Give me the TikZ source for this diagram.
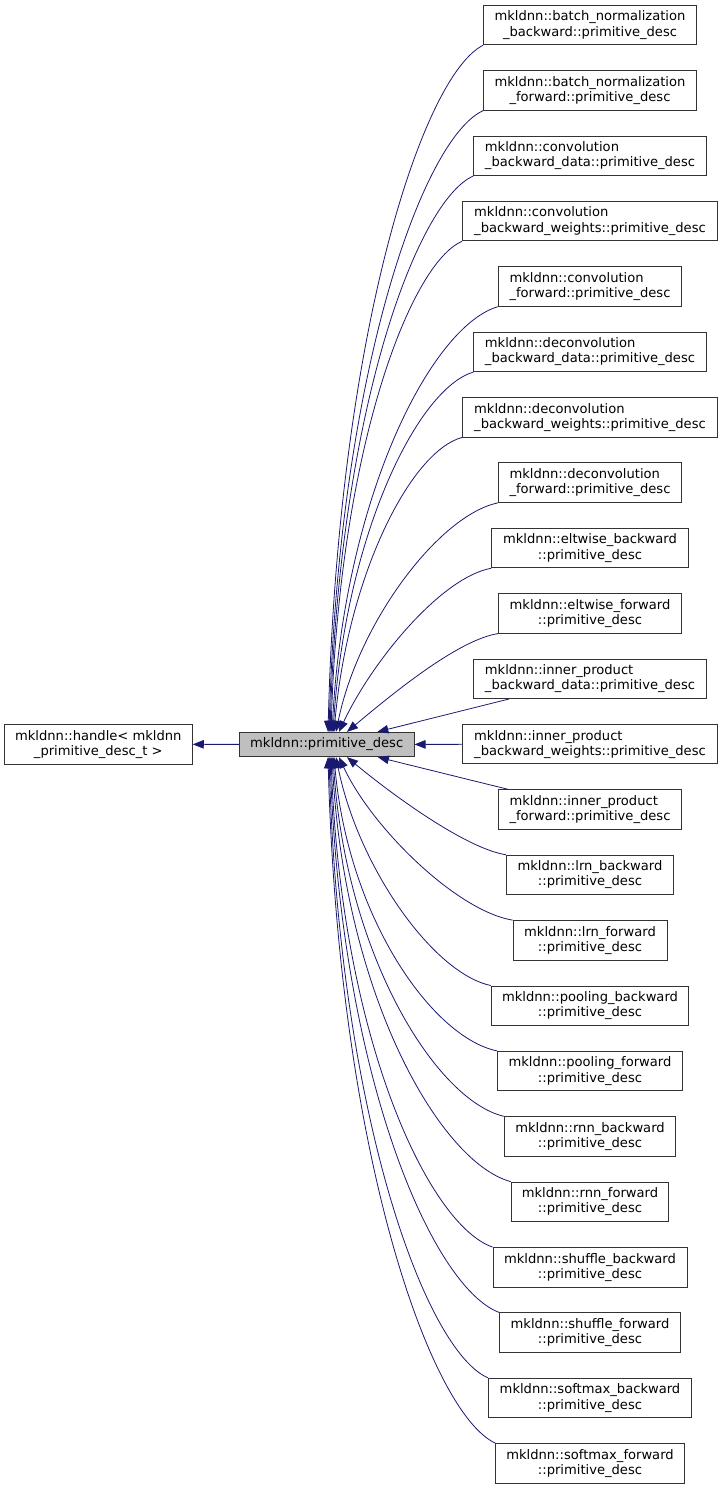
\documentclass[tikz,border=0pt]{standalone}
\usepackage{fontspec}
\setmainfont{DejaVu Sans}
\usetikzlibrary{arrows.meta}
\definecolor{edgeblue}{RGB}{25,25,112}
\tikzset{
  cls/.style={draw=black!80, line width=0.9pt, fill=white, align=center,
    minimum height=39.5pt, inner sep=1pt,
    font=\fontsize{13.1}{15.2}\selectfont},
  edge/.style={draw=edgeblue, line width=0.8pt,
    -{Triangle[length=11pt,width=8.5pt]}},
}
\begin{document}
\begin{tikzpicture}[x=1pt,y=-1pt]
  \useasboundingbox (0,0) rectangle (723,1489);
  % base classes
  \node[cls, minimum width=188pt] (hd) at (98.3,744.2)
    {mkldnn::handle< mkldnn\\\_primitive\_desc\_t >};
  \node[cls, fill=black!25, minimum width=174.7pt, minimum height=24.4pt]
    (pd) at (326.7,744.5) {mkldnn::primitive\_desc};
  % derived classes
  \node[cls, minimum width=212.7pt] (b1) at (590,25)
    {mkldnn::batch\_normalization\\\_backward::primitive\_desc};
  \node[cls, minimum width=212.7pt] (b2) at (590,90.38)
    {mkldnn::batch\_normalization\\\_forward::primitive\_desc};
  \node[cls, align=left, minimum width=232.4pt] (b3) at (590,155.76)
    {mkldnn::convolution\\\_backward\_data::primitive\_desc};
  \node[cls, align=left, minimum width=255pt] (b4) at (590,221.14)
    {mkldnn::convolution\\\_backward\_weights::primitive\_desc};
  \node[cls, align=left, minimum width=183.4pt] (b5) at (590,286.52)
    {mkldnn::convolution\\\_forward::primitive\_desc};
  \node[cls, align=left, minimum width=232.4pt] (b6) at (590,351.9)
    {mkldnn::deconvolution\\\_backward\_data::primitive\_desc};
  \node[cls, align=left, minimum width=255pt] (b7) at (590,417.28)
    {mkldnn::deconvolution\\\_backward\_weights::primitive\_desc};
  \node[cls, align=left, minimum width=183.4pt] (b8) at (590,482.66)
    {mkldnn::deconvolution\\\_forward::primitive\_desc};
  \node[cls, minimum width=196.7pt] (b9) at (590,548.04)
    {mkldnn::eltwise\_backward\\::primitive\_desc};
  \node[cls, minimum width=183.4pt] (b10) at (590,613.42)
    {mkldnn::eltwise\_forward\\::primitive\_desc};
  \node[cls, align=left, minimum width=232.7pt] (b11) at (590,678.8)
    {mkldnn::inner\_product\\\_backward\_data::primitive\_desc};
  \node[cls, align=left, minimum width=255pt] (b12) at (590,744.18)
    {mkldnn::inner\_product\\\_backward\_weights::primitive\_desc};
  \node[cls, align=left, minimum width=182.7pt] (b13) at (590,809.56)
    {mkldnn::inner\_product\\\_forward::primitive\_desc};
  \node[cls, minimum width=167.3pt] (b14) at (590,874.94)
    {mkldnn::lrn\_backward\\::primitive\_desc};
  \node[cls, minimum width=154pt] (b15) at (590,940.32)
    {mkldnn::lrn\_forward\\::primitive\_desc};
  \node[cls, minimum width=197.6pt] (b16) at (590,1005.7)
    {mkldnn::pooling\_backward\\::primitive\_desc};
  \node[cls, minimum width=185pt] (b17) at (590,1071.08)
    {mkldnn::pooling\_forward\\::primitive\_desc};
  \node[cls, minimum width=171.7pt] (b18) at (590,1136.46)
    {mkldnn::rnn\_backward\\::primitive\_desc};
  \node[cls, minimum width=157.6pt] (b19) at (590,1201.84)
    {mkldnn::rnn\_forward\\::primitive\_desc};
  \node[cls, minimum width=194pt] (b20) at (590,1267.22)
    {mkldnn::shuffle\_backward\\::primitive\_desc};
  \node[cls, minimum width=180.7pt] (b21) at (590,1332.6)
    {mkldnn::shuffle\_forward\\::primitive\_desc};
  \node[cls, minimum width=203.4pt] (b22) at (590,1397.98)
    {mkldnn::softmax\_backward\\::primitive\_desc};
  \node[cls, minimum width=188.4pt] (b23) at (590,1463.36)
    {mkldnn::softmax\_forward\\::primitive\_desc};

  % inheritance arrows
  \draw[edge] (pd) -- (hd);
  \draw[edge] (b1.south west) .. controls +(-60.6,30.2) and +(10.1,-398.6) .. ([xshift=1.3pt]pd.north);
  \draw[edge] (b2.south west) .. controls +(-60.2,27.4) and +(10.0,-360.7) .. ([xshift=2.3pt]pd.north);
  \draw[edge] (b3.south west) .. controls +(-55.9,24.5) and +(9.3,-322.8) .. ([xshift=3.3pt]pd.north);
  \draw[edge] (b4.south west) .. controls +(-51.2,21.6) and +(8.5,-284.9) .. ([xshift=4.3pt]pd.north);
  \draw[edge] (b5.south west) .. controls +(-64.9,18.7) and +(12.8,-240.0) .. ([xshift=5.3pt]pd.north);
  \draw[edge] (b6.south west) .. controls +(-54.7,15.9) and +(13.1,-200.0) .. ([xshift=6.3pt]pd.north);
  \draw[edge] (b7.south west) .. controls +(-50.0,13.0) and +(14.3,-160.1) .. ([xshift=7.3pt]pd.north);
  \draw[edge] (b8.south west) .. controls +(-58.3,12.1) and +(22.5,-110.2) .. ([xshift=9.3pt]pd.north);
  \draw[edge] (b9.south west) .. controls +(-50.3,9.2) and +(32.9,-70.3) .. ([xshift=12.3pt]pd.north);
  \draw[edge] (b10.south west) .. controls +(-40.0,6.4) and +(45.8,-38.4) .. ([xshift=20.3pt]pd.north);
  \draw[edge] (b11) -- (pd);
  \draw[edge] (b12) -- (pd);
  \draw[edge] (b13) -- (pd);
  \draw[edge] (b14.north west) .. controls +(-40.0,-6.3) and +(45.8,38.0) .. ([xshift=20.3pt]pd.south);
  \draw[edge] (b15.north west) .. controls +(-55.7,-9.2) and +(32.9,70.9) .. ([xshift=12.3pt]pd.south);
  \draw[edge] (b16.north west) .. controls +(-57.3,-12.1) and +(22.5,110.8) .. ([xshift=9.3pt]pd.south);
  \draw[edge] (b17.north west) .. controls +(-63.7,-13.0) and +(14.6,162.8) .. ([xshift=7.3pt]pd.south);
  \draw[edge] (b18.north west) .. controls +(-66.7,-15.8) and +(13.1,200.7) .. ([xshift=6.3pt]pd.south);
  \draw[edge] (b19.north west) .. controls +(-69.7,-18.7) and +(12.6,240.6) .. ([xshift=5.3pt]pd.south);
  \draw[edge] (b20.north west) .. controls +(-63.1,-21.6) and +(10.5,284.5) .. ([xshift=4.3pt]pd.south);
  \draw[edge] (b21.north west) .. controls +(-66.0,-24.5) and +(11.0,322.5) .. ([xshift=3.3pt]pd.south);
  \draw[edge] (b22.north west) .. controls +(-62.1,-27.3) and +(10.4,360.4) .. ([xshift=2.3pt]pd.south);
  \draw[edge] (b23.north west) .. controls +(-64.9,-30.2) and +(10.8,398.3) .. ([xshift=1.3pt]pd.south);
\end{tikzpicture}
\end{document}
